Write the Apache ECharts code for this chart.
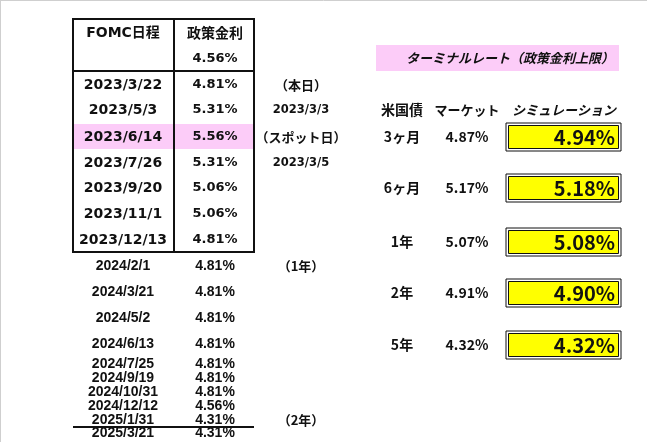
<!DOCTYPE html>
<html>
<head>
<meta charset="utf-8">
<script src="https://cdn.jsdelivr.net/npm/echarts@6/dist/echarts.min.js"></script>
<style>
html, body { margin: 0; padding: 0; background: #fff; }
#main { width: 647px; height: 442px; }
</style>
</head>
<body>
<div id="main"></div>
<script>
/* global echarts */

// data
var currentRate = 4.56;
var fomcDates = ['2023/3/22', '2023/5/3', '2023/6/14', '2023/7/26', '2023/9/20', '2023/11/1', '2023/12/13',
    '2024/2/1', '2024/3/21', '2024/5/2', '2024/6/13', '2024/7/25', '2024/9/19', '2024/10/31',
    '2024/12/12', '2025/1/31', '2025/3/21'];
var policyRates = [4.81, 5.31, 5.56, 5.31, 5.06, 5.06, 4.81, 4.81, 4.81, 4.81, 4.81, 4.81, 4.81, 4.81, 4.56, 4.31, 4.31];
var sideNotes = ['（本日）', '2023/3/3', '（スポット日）', '2023/3/5', '', '', '', '（1年）', '', '', '', '', '', '', '', '（2年）', ''];
var spotIndex = 2;
var tenors = ['3ヶ月', '6ヶ月', '1年', '2年', '5年'];
var marketRates = [4.87, 5.17, 5.07, 4.91, 4.32];
var simRates = [4.94, 5.18, 5.08, 4.90, 4.32];

// layout (pixels on a 647x442 canvas)
var rowY = [85, 110, 137, 163, 188, 214, 240, 266, 292, 318, 344, 364, 378, 392, 406, 420, 433];
var boxRowY = [137, 188, 242, 293, 345];
var JP = '"Noto Sans CJK JP", sans-serif';
var WIDE = '"DejaVu Sans", "Noto Sans CJK JP", sans-serif';
var NARROW = '"Liberation Sans", "Noto Sans CJK JP", sans-serif';
var INK = '#111';

function pct(v) {
    return v.toFixed(2) + '%';
}

function txt(x, y, s, font, extra) {
    var style = {x: x, y: y, text: s, fill: INK, font: font,
        textAlign: 'center', textVerticalAlign: 'middle'};
    if (extra) {
        for (var k in extra) style[k] = extra[k];
    }
    return {type: 'text', style: style};
}

function renderFomc(params, api) {
    var i = api.value(0);
    var y = api.coord([0, rowY[i]])[1];
    var big = i < 7;
    var children = [];
    if (i === spotIndex) {
        var a = api.coord([73, y - 13]);
        children.push({type: 'rect', shape: {x: a[0], y: a[1], width: 181, height: 25},
            style: {fill: '#FCCCF8'}});
    }
    children.push(txt(api.coord([123, 0])[0], y, fomcDates[i],
        big ? 'bold 14px ' + WIDE : 'bold 14px ' + NARROW));
    children.push(txt(api.coord([215, 0])[0], y, pct(policyRates[i]),
        big ? 'bold 13px ' + WIDE : 'bold 14px ' + NARROW));
    if (sideNotes[i]) {
        var isDate = sideNotes[i].charAt(0) === '2';
        children.push(txt(api.coord([301, 0])[0], y, sideNotes[i],
            isDate ? 'bold 11.5px ' + WIDE : 'bold 13px ' + JP));
    }
    return {type: 'group', children: children};
}

function renderSim(params, api) {
    var i = api.value(0);
    var y = api.coord([0, boxRowY[i]])[1];
    var left = api.coord([506, 0])[0];
    return {type: 'group', children: [
        txt(api.coord([402, 0])[0], y, tenors[i], 'bold 14px ' + JP),
        txt(api.coord([467, 0])[0], y, pct(marketRates[i]), 'bold 14px ' + JP),
        {type: 'rect', shape: {x: left, y: y - 14, width: 115, height: 28},
            style: {fill: '#fff', stroke: INK, lineWidth: 1}},
        {type: 'rect', shape: {x: left + 2.5, y: y - 11.5, width: 110, height: 23},
            style: {fill: '#FFFF00', stroke: INK, lineWidth: 1}},
        txt(left + 109, y, pct(simRates[i]), 'bold 20px ' + JP, {textAlign: 'right'})
    ]};
}

var frame = [
    {type: 'line', shape: {x1: 0, y1: 0.5, x2: 647, y2: 0.5}, style: {stroke: '#cfcfcf', lineWidth: 1}},
    {type: 'line', shape: {x1: 0.5, y1: 0, x2: 0.5, y2: 442}, style: {stroke: '#cfcfcf', lineWidth: 1}},
    {type: 'rect', shape: {x: 73, y: 19, width: 181, height: 233}, style: {fill: 'none', stroke: INK, lineWidth: 2}, z: 10},
    {type: 'line', shape: {x1: 174, y1: 19, x2: 174, y2: 252}, style: {stroke: INK, lineWidth: 2}, z: 10},
    {type: 'line', shape: {x1: 73, y1: 71, x2: 254, y2: 71}, style: {stroke: INK, lineWidth: 2}, z: 10},
    {type: 'line', shape: {x1: 73, y1: 427, x2: 254, y2: 427}, style: {stroke: INK, lineWidth: 2}, z: 10},
    txt(123, 33, 'FOMC日程', 'bold 14px ' + WIDE),
    txt(215, 33, '政策金利', 'bold 14px ' + JP),
    txt(215, 59, pct(currentRate), 'bold 13px ' + WIDE),
    {type: 'rect', shape: {x: 376, y: 45, width: 243, height: 26}, style: {fill: '#FCCCF8'}},
    txt(510, 58, 'ターミナルレート（政策金利上限）', 'italic bold 13px ' + JP),
    txt(402, 110, '米国債', 'bold 14px ' + JP),
    txt(467, 110, 'マーケット', 'bold 13px ' + JP),
    txt(564, 110, 'シミュレーション', 'italic bold 13px ' + JP)
];

var myChart = echarts.init(document.getElementById('main'));
option = {
    backgroundColor: '#fff',
    animation: false,
    grid: {left: 0, right: 0, top: 0, bottom: 0},
    xAxis: {type: 'value', min: 0, max: 647, show: false},
    yAxis: {type: 'value', min: 0, max: 442, inverse: true, show: false},
    graphic: frame.map(function (g) {
        if (g.z == null) g.z = 5;
        return g;
    }),
    series: [
        {
            type: 'custom',
            renderItem: renderFomc,
            data: fomcDates.map(function (d, i) { return [i]; }),
            z: 2
        },
        {
            type: 'custom',
            renderItem: renderSim,
            data: tenors.map(function (d, i) { return [i]; }),
            z: 2
        }
    ]
};
myChart.setOption(option);
</script>
</body>
</html>
